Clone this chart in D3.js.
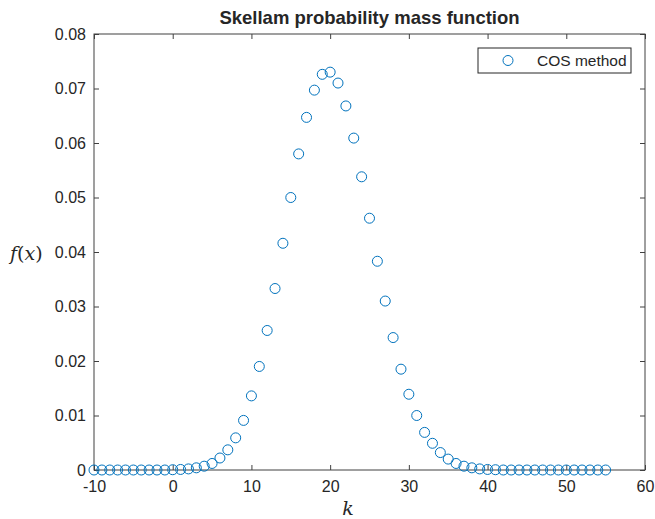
<!DOCTYPE html>
<html>
<head>
<meta charset="utf-8">
<script src="https://cdn.jsdelivr.net/npm/d3@7"></script>
<style>
  body { margin: 0; background: #fff; }
  text { font-family: "Liberation Sans", Arial, sans-serif; fill: #262626; }
  .lbl { font-family: "DejaVu Serif", "Liberation Serif", serif; font-style: italic; }
</style>
</head>
<body>
<div id="chart"></div>
<script>
// values
var kValues = d3.range(-10, 56);
var pmf = [
  0, 0, 0, 0, 0, 0, 0, 0, 0, 0,               // -10 .. -1
  0.00005, 0.0001, 0.0002, 0.0004, 0.0007,    // 0 .. 4
  0.0012, 0.0022, 0.0037, 0.0059, 0.0091,     // 5 .. 9
  0.0136, 0.0190, 0.0256, 0.0333, 0.0416,     // 10 .. 14
  0.0500, 0.0580, 0.0647, 0.0697, 0.0726,     // 15 .. 19
  0.0730, 0.0710, 0.0668, 0.0609, 0.0538,     // 20 .. 24
  0.0462, 0.0383, 0.0310, 0.0243, 0.0185,     // 25 .. 29
  0.0139, 0.0100, 0.0069, 0.0049, 0.0032,     // 30 .. 34
  0.0020, 0.0012, 0.0007, 0.0004, 0.0002,     // 35 .. 39
  0.0001, 0.00005, 0, 0, 0,                   // 40 .. 44
  0, 0, 0, 0, 0, 0, 0, 0, 0, 0, 0             // 45 .. 55
];
var xTicks = [-10, 0, 10, 20, 30, 40, 50, 60];
var yTicks = [0, 0.01, 0.02, 0.03, 0.04, 0.05, 0.06, 0.07, 0.08];
var titleText = "Skellam probability mass function";
var legendText = "COS method";

var width = 655, height = 519;
var margin = {left: 94, top: 34, right: 10, bottom: 49};
var w = width - margin.left - margin.right;
var h = height - margin.top - margin.bottom;
var axisColor = "#404040";
var blue = "#0072BD";

var svg = d3.select("#chart").append("svg")
    .attr("width", width)
    .attr("height", height);

var g = svg.append("g")
    .attr("transform", "translate(" + margin.left + "," + margin.top + ")");

var x = d3.scaleLinear().domain([-10, 60]).range([0, w]);
var y = d3.scaleLinear().domain([0, 0.08]).range([h, 0]);

function styleAxis(sel, showText) {
  sel.select(".domain").remove();
  sel.selectAll(".tick line").attr("stroke", axisColor);
  sel.selectAll(".tick text")
    .style("font-size", "16px")
    .attr("fill", "#262626");
  if (!showText) sel.selectAll(".tick text").remove();
}

// bottom / left with labels, top / right ticks only (inward ticks)
g.append("g")
  .attr("transform", "translate(0," + h + ")")
  .call(d3.axisBottom(x).tickValues(xTicks).tickSize(-5).tickPadding(11).tickFormat(function(d) { return String(d); }))
  .call(styleAxis, true);
g.append("g")
  .call(d3.axisTop(x).tickValues(xTicks).tickSize(-5))
  .call(styleAxis, false);
g.append("g")
  .call(d3.axisLeft(y).tickValues(yTicks).tickSize(-5).tickPadding(8).tickFormat(function(d) { return d === 0 ? "0" : d3.format(".2f")(d); }))
  .call(styleAxis, true);
g.append("g")
  .attr("transform", "translate(" + w + ",0)")
  .call(d3.axisRight(y).tickValues(yTicks).tickSize(-5))
  .call(styleAxis, false);

// box
g.append("rect")
  .attr("width", w).attr("height", h)
  .attr("fill", "none")
  .attr("stroke", axisColor)
  .attr("stroke-width", 1);

// points
g.selectAll("circle.pt")
  .data(kValues.map(function(k, i) { return {k: k, v: pmf[i]}; }))
  .enter().append("circle")
  .attr("class", "pt")
  .attr("cx", function(d) { return x(d.k); })
  .attr("cy", function(d) { return y(d.v); })
  .attr("r", 5)
  .attr("fill", "none")
  .attr("stroke", blue)
  .attr("stroke-width", 1);

// title
svg.append("text")
  .attr("x", margin.left + w / 2)
  .attr("y", 24)
  .attr("text-anchor", "middle")
  .style("font-size", "18.5px")
  .style("font-weight", "bold")
  .attr("fill", "#000")
  .text(titleText);

// axis labels
var ylab = svg.append("text")
  .attr("class", "lbl")
  .attr("x", 10)
  .attr("y", 260)
  .style("font-size", "19px");
ylab.append("tspan").text("f");
ylab.append("tspan").style("font-style", "normal").text("(");
ylab.append("tspan").text("x");
ylab.append("tspan").style("font-style", "normal").text(")");

svg.append("text")
  .attr("class", "lbl")
  .attr("x", 348)
  .attr("y", 515)
  .attr("text-anchor", "middle")
  .style("font-size", "19px")
  .text("k");

// legend
var leg = svg.append("g").attr("transform", "translate(478,48)");
leg.append("rect")
  .attr("width", 153).attr("height", 25)
  .attr("fill", "#fff")
  .attr("stroke", "#262626")
  .attr("stroke-width", 1);
leg.append("circle")
  .attr("cx", 30).attr("cy", 12.5).attr("r", 5)
  .attr("fill", "none").attr("stroke", blue);
leg.append("text")
  .attr("x", 59).attr("y", 18)
  .style("font-size", "15.5px")
  .text(legendText);
</script>
</body>
</html>
